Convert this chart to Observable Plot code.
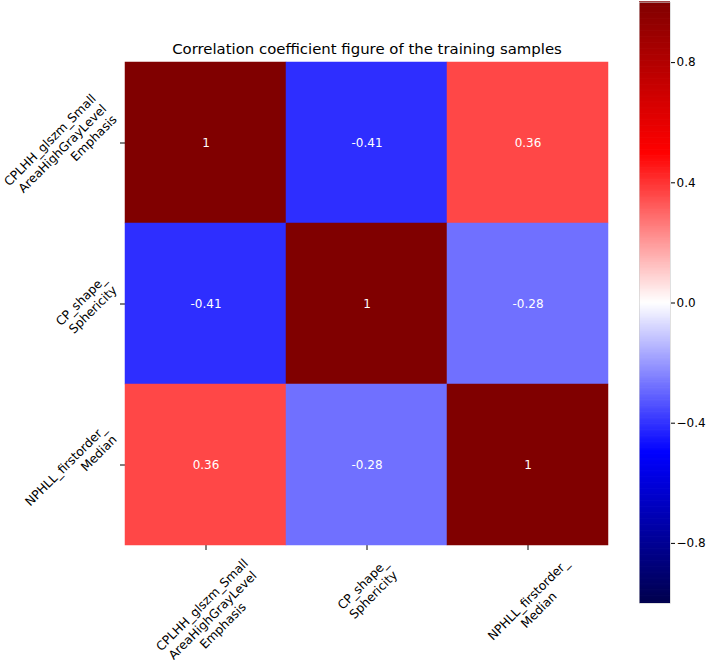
<!DOCTYPE html>
<html><head><meta charset="utf-8">
<script src="https://cdn.jsdelivr.net/npm/d3@7"></script>
<script src="https://cdn.jsdelivr.net/npm/@observablehq/plot@0.6"></script>
<style>
body{margin:0;background:#fff;}
#wrap{position:relative;width:708px;height:660px;overflow:hidden;display:flex;font-family:"DejaVu Sans",sans-serif;}
#wrap svg{flex:none;}
</style></head><body><div id="wrap"></div>
<script>
// ---- data ----
const features = ["CPLHH_glszm_Small\nAreaHighGrayLevel\nEmphasis", "CP_shape_\nSphericity", "NPHLL_firstorder_\nMedian"];
const row1 = [1, -0.41, 0.36];
const row2 = [-0.41, 1, -0.28];
const row3 = [0.36, -0.28, 1];
const colorTicks = [0.8, 0.4, 0.0, -0.4, -0.8];
const title = "Correlation coefficient figure of the training samples";

const rows = [row1, row2, row3];
const cells = features.flatMap((r, i) => features.map((c, j) => ({row: r, col: c, value: rows[i][j]})));

// seismic colormap
const seismic = d3.piecewise(d3.interpolateRgb, ["#00004d", "#0000ff", "#ffffff", "#ff0000", "#800000"]);
const colorOpts = {type: "linear", domain: [-1, 1], interpolate: t => seismic(t)};

const FS = 12.3, LH = 1.2;
const ctx = document.createElement("canvas").getContext("2d");
ctx.font = `${FS}px "DejaVu Sans"`;
const tw = s => ctx.measureText(s).width;
const k = Math.SQRT1_2;

const W = 630, H = 660, ML = 125, MR = 22, MT = 61, MB = 115;

function lineBoxes(label) {
  const lines = label.split("\n");
  const n = lines.length, lh = FS * LH, Ht = n * lh;
  return lines.map((s, i) => {
    const yc = -Ht / 2 + lh * (i + 0.5);
    return {w: tw(s), top: yc - lh / 2, bot: yc + lh / 2};
  });
}

// y labels: text-anchor end, rotated -45; bbox right edge just left of ticks, centred on tick
const yLabelMarks = features.map(f => {
  const b = lineBoxes(f);
  const xmax = d3.max(b, l => k * l.bot);
  const ymin = d3.min(b, l => k * l.top);
  const ymax = d3.max(b, l => k * (l.w + l.bot));
  return Plot.text([f], {y: d => d, text: d => d, frameAnchor: "left", textAnchor: "end", lineAnchor: "middle",
    lineHeight: LH, rotate: -45, dx: -6 - xmax, dy: -(ymin + ymax) / 2, fill: "black"});
});
// x labels: centred lines, rotated -45; bbox centred on tick, top just below ticks
const xLabelMarks = features.map(f => {
  const b = lineBoxes(f);
  const xmin = d3.min(b, l => k * (-l.w / 2 + l.top));
  const xmax = d3.max(b, l => k * (l.w / 2 + l.bot));
  const ymin = d3.min(b, l => k * (-l.w / 2 + l.top));
  return Plot.text([f], {x: d => d, text: d => d, frameAnchor: "bottom", textAnchor: "middle", lineAnchor: "middle",
    lineHeight: LH, rotate: -45, dx: -(xmin + xmax) / 2, dy: 10 - ymin, fill: "black"});
});

const main = Plot.plot({
  width: W, height: H, marginLeft: ML, marginRight: MR, marginTop: MT, marginBottom: MB,
  style: {fontFamily: "DejaVu Sans", fontSize: FS + "px", background: "white"},
  x: {type: "band", domain: features, padding: 0, tickSize: 5, tickFormat: () => "", label: null},
  y: {type: "band", domain: features, padding: 0, tickSize: 5, tickFormat: () => "", label: null},
  color: colorOpts,
  marks: [
    Plot.cell(cells, {x: "col", y: "row", fill: "value", inset: 0, stroke: "value", strokeWidth: 0.5}),
    Plot.text(cells, {x: "col", y: "row", text: d => String(d.value), fill: "white", fontSize: 12}),
    Plot.text([title], {text: d => d, frameAnchor: "top", lineAnchor: "bottom", dy: -8, fontSize: 14.9, fill: "black"}),
    ...yLabelMarks,
    ...xLabelMarks
  ]
});

const step = 0.004;
const ramp = d3.range(-1, 1, step);
const bar = Plot.plot({
  width: 78, height: H, marginLeft: 9, marginRight: 38, marginTop: 2, marginBottom: 57,
  style: {fontFamily: "DejaVu Sans", fontSize: "12px", background: "white"},
  x: {axis: null},
  y: {domain: [-1, 1], axis: "right", ticks: colorTicks, tickSize: 4, tickPadding: 2,
      tickFormat: d => d3.format(".1f")(d).replace("-", "\u2212"), label: null},
  color: colorOpts,
  marks: [
    Plot.rect(ramp, {y1: d => d, y2: d => d + step * 1.6, fill: d => d + step / 2}),
    Plot.frame({stroke: "#ccc", strokeWidth: 0.6})
  ]
});

const wrap = document.getElementById("wrap");
wrap.appendChild(main);
wrap.appendChild(bar);
</script>
</body></html>
